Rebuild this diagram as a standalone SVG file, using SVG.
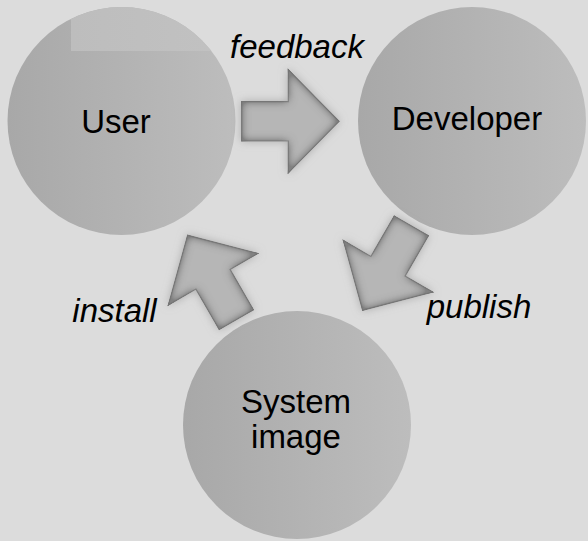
<svg xmlns="http://www.w3.org/2000/svg" width="588" height="541" viewBox="0 0 588 541">
  <defs>
    <linearGradient id="circ" x1="0" y1="0" x2="1" y2="0">
      <stop offset="0" stop-color="#a8a8a8"/>
      <stop offset="1" stop-color="#bdbdbd"/>
    </linearGradient>
    <linearGradient id="patch" x1="0" y1="0" x2="1" y2="0">
      <stop offset="0" stop-color="#bdbdbd"/>
      <stop offset="1" stop-color="#c2c2c2"/>
    </linearGradient>
    <clipPath id="userClip">
      <circle cx="121.5" cy="121" r="114"/>
    </clipPath>
    <filter id="arrowFx" x="-30%" y="-30%" width="160%" height="160%">
      <feGaussianBlur in="SourceAlpha" stdDeviation="4" result="outerBlur"/>
      <feFlood flood-color="#9a9a9a" flood-opacity="0.7" result="outerCol"/>
      <feComposite in="outerCol" in2="outerBlur" operator="in" result="outer"/>
      <feGaussianBlur in="SourceAlpha" stdDeviation="5" result="ib"/>
      <feComposite in="SourceAlpha" in2="ib" operator="arithmetic" k2="2" k3="-2" result="edge"/>
      <feFlood flood-color="#6e6e6e" flood-opacity="0.8" result="innerCol"/>
      <feComposite in="innerCol" in2="edge" operator="in" result="inner"/>
      <feMerge>
        <feMergeNode in="outer"/>
        <feMergeNode in="SourceGraphic"/>
        <feMergeNode in="inner"/>
      </feMerge>
    </filter>
    <path id="arrowShape" d="M-48.6,-19.7 L-2,-19.7 L-2,-51.5 L48.7,0 L-2,51.5 L-2,19.7 L-48.6,19.7 Z"/>
  </defs>
  <style>
    .node { fill: url(#circ); }
    .lbl { font-family: "Liberation Sans", Arial, sans-serif; font-size: 33px; fill: #000; text-anchor: middle; }
    .edge { font-family: "Liberation Sans", Arial, sans-serif; font-size: 33px; font-style: italic; fill: #000; text-anchor: middle; }
    .arrow { fill: #b6b6b6; stroke: #8a8a8a; stroke-width: 1.2; }
  </style>
  <rect width="588" height="541" fill="#dcdcdc"/>

  <g id="user">
    <circle class="node" cx="121.5" cy="121" r="114"/>
    <rect x="71" y="0" width="170" height="51" fill="url(#patch)" clip-path="url(#userClip)"/>
    <text class="lbl" x="116" y="133">User</text>
  </g>

  <g id="developer">
    <circle class="node" cx="472" cy="121" r="114"/>
    <text class="lbl" x="467" y="130">Developer</text>
  </g>

  <g id="system-image">
    <circle class="node" cx="297" cy="425" r="114"/>
    <text class="lbl" x="296" y="413">System</text>
    <text class="lbl" x="296" y="448">image</text>
  </g>

  <g id="connectors">
    <g id="feedback" filter="url(#arrowFx)">
      <use href="#arrowShape" class="arrow" transform="translate(290.3,121.3)"/>
    </g>
    <text class="edge" x="297" y="58">feedback</text>
    <g id="publish" filter="url(#arrowFx)">
      <use href="#arrowShape" class="arrow" transform="translate(387,268) rotate(120)"/>
    </g>
    <text class="edge" x="479" y="318">publish</text>
    <g id="install" filter="url(#arrowFx)">
      <use href="#arrowShape" class="arrow" transform="translate(212,277.5) rotate(240)"/>
    </g>
    <text class="edge" x="114.5" y="321.5">install</text>
  </g>
</svg>
